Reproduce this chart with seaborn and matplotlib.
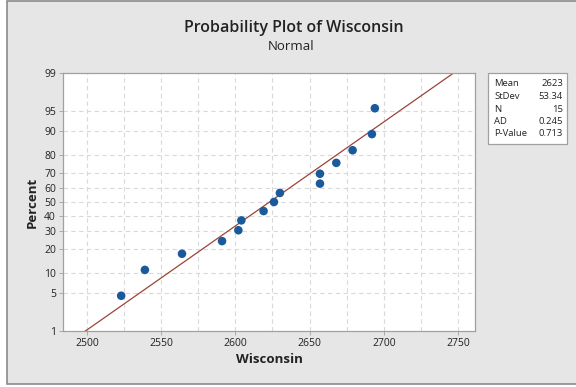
import matplotlib
matplotlib.use("Agg")
import matplotlib.pyplot as plt
import seaborn as sns
import pandas as pd
import numpy as np
from statistics import NormalDist
from matplotlib.patches import Rectangle

# Wisconsin observations (sorted)
wisconsin = [2523, 2539, 2564, 2591, 2602, 2604, 2619, 2626, 2630,
             2657, 2657, 2668, 2679, 2692, 2694]
# Fitted normal parameters and goodness-of-fit summary
fit_mean = 2623
fit_stdev = 53.34
n_obs = 15
ad_stat = 0.245
p_value = 0.713
# Probability-scale ticks (percent) and x ticks
pct_ticks = [1, 5, 10, 20, 30, 40, 50, 60, 70, 80, 90, 95, 99]
x_ticks = [2500, 2550, 2600, 2650, 2700, 2750]

nd = NormalDist()
ranks = np.arange(1, n_obs + 1)
pct = (ranks - 0.3) / (n_obs + 0.4)          # median ranks
z_pts = [nd.inv_cdf(p) for p in pct]
df = pd.DataFrame({"Wisconsin": wisconsin, "z": z_pts})

sns.set_theme(style="white")
plt.rcParams["font.family"] = ["Open Sans", "DejaVu Sans"]

fig = plt.figure(figsize=(5.76, 3.87), dpi=100, facecolor="white")
fig.patches.append(Rectangle((7 / 576, 3 / 387), 1, 1 - 4 / 387,
                             transform=fig.transFigure, facecolor="#e6e6e6",
                             edgecolor="#8a8a8a", linewidth=1.2, zorder=-10))

ax = fig.add_axes([63 / 576, 1 - 331 / 387, (475 - 63) / 576, (331 - 73) / 387])
ax.set_facecolor("white")

z_lo, z_hi = nd.inv_cdf(0.01), nd.inv_cdf(0.99)
ax.set_xlim(2483.8, 2761.5)
ax.set_ylim(z_lo, z_hi)

# gridlines
grid_kw = dict(color="#d9d9d9", lw=0.8, ls=(0, (4, 3)), zorder=0)
for xv in np.arange(2500, 2751, 25):
    ax.axvline(xv, **grid_kw)
for p in pct_ticks[1:-1]:
    ax.axhline(nd.inv_cdf(p / 100), **grid_kw)

# fitted line across the probability range
z_line = np.linspace(z_lo - 0.2, z_hi + 0.2, 50)
sns.lineplot(x=fit_mean + z_line * fit_stdev, y=z_line, ax=ax, color="#9b4436",
             lw=0.9, sort=False, estimator=None, zorder=2)

sns.scatterplot(data=df, x="Wisconsin", y="z", ax=ax, color="#1a5a9c", s=38,
                edgecolor="none", zorder=3)

ax.set_yticks([nd.inv_cdf(p / 100) for p in pct_ticks])
ax.set_yticklabels([str(p) for p in pct_ticks])
ax.set_xticks(x_ticks)
ax.set_xticklabels([str(v) for v in x_ticks])
ax.tick_params(axis="both", labelsize=7.5, colors="#222222", length=3, width=0.6,
               direction="out", pad=2, left=True, bottom=True)
ax.tick_params(axis="both", color="#a0a0a0")
for s in ax.spines.values():
    s.set_color("#a0a0a0")
    s.set_linewidth(0.9)

ax.set_xlabel("Wisconsin", fontsize=9.5, fontweight="bold", color="#222222", labelpad=3)
ax.set_ylabel("Percent", fontsize=9.5, fontweight="bold", color="#222222", labelpad=4)

fig.text(293.5 / 576, 1 - 28 / 387, "Probability Plot of Wisconsin", ha="center",
         va="center", fontsize=11.5, fontweight="semibold", color="#222222")
fig.text(291 / 576, 1 - 47 / 387, "Normal", ha="center", va="center",
         fontsize=9.5, color="#222222")

# statistics box
bx0, by0, bx1, by1 = 488, 73, 567, 144
fig.patches.append(Rectangle((bx0 / 576, 1 - by1 / 387), (bx1 - bx0) / 576,
                             (by1 - by0) / 387, transform=fig.transFigure,
                             facecolor="white", edgecolor="#a0a0a0", lw=0.9))
labels = ["Mean", "StDev", "N", "AD", "P-Value"]
values = [f"{fit_mean}", f"{fit_stdev:.2f}", f"{n_obs}", f"{ad_stat:.3f}", f"{p_value:.3f}"]
for i, (lab, val) in enumerate(zip(labels, values)):
    yy = 1 - (84 + i * 12.5) / 387
    fig.text(494 / 576, yy, lab, ha="left", va="center", fontsize=6.8, color="#222222")
    fig.text(563 / 576, yy, val, ha="right", va="center", fontsize=6.8, color="#222222")

fig.savefig("out.png", dpi=100, facecolor=fig.get_facecolor())
